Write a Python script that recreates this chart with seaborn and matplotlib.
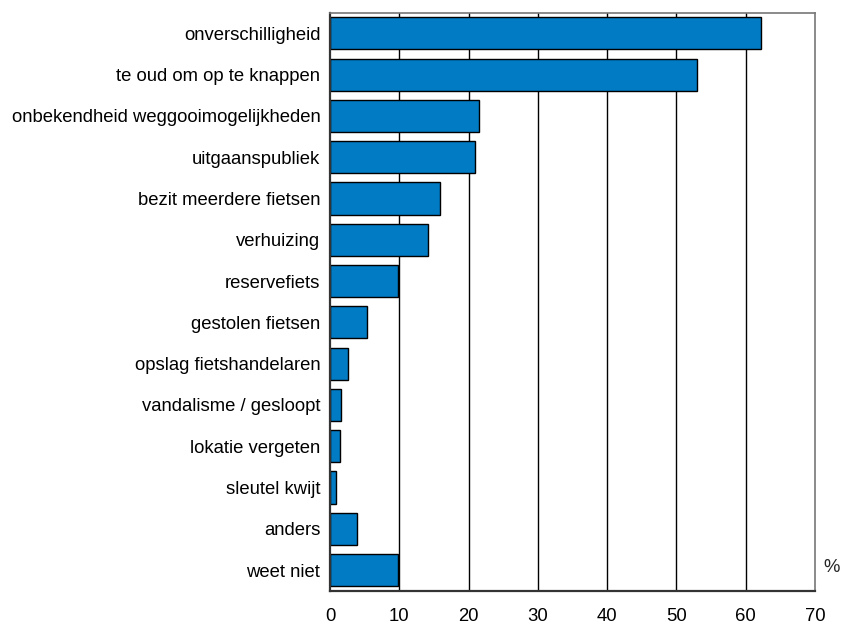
import matplotlib
matplotlib.use("Agg")
import matplotlib.pyplot as plt
import seaborn as sns
import pandas as pd

# reasons (top to bottom) and share of respondents in %
reasons = [
    "onverschilligheid",
    "te oud om op te knappen",
    "onbekendheid weggooimogelijkheden",
    "uitgaanspubliek",
    "bezit meerdere fietsen",
    "verhuizing",
    "reservefiets",
    "gestolen fietsen",
    "opslag fietshandelaren",
    "vandalisme / gesloopt",
    "lokatie vergeten",
    "sleutel kwijt",
    "anders",
    "weet niet",
]
percent = [62.2, 53.0, 21.5, 20.9, 15.9, 14.2, 9.8, 5.4, 2.65, 1.65, 1.45, 0.8, 3.9, 9.8]
x_ticks = [0, 10, 20, 30, 40, 50, 60, 70]

df = pd.DataFrame({"reden": reasons, "pct": percent})

sns.set_style("white")
plt.rcParams["font.family"] = ["Liberation Sans", "DejaVu Sans"]

fig = plt.figure(figsize=(8.44, 6.25), dpi=100)
ax = fig.add_axes([330 / 844, 1 - 590.7 / 625, (815 - 330) / 844, (590.7 - 12.7) / 625])

sns.barplot(data=df, x="pct", y="reden", orient="h", color="#007BC4",
            edgecolor="black", linewidth=1.0, width=0.78, saturation=1, ax=ax)

ax.set_xlim(0, 70)
ax.set_ylim(len(reasons) - 0.5, -0.5)
ax.set_xticks(x_ticks)
ax.set_xticklabels([str(t) for t in x_ticks])
ax.set_xlabel("")
ax.set_ylabel("")

for t in x_ticks[1:-1]:
    ax.axvline(t, color="black", linewidth=1.0, zorder=0)
ax.set_axisbelow(True)

for side in ["top", "right"]:
    ax.spines[side].set_color("#777777")
    ax.spines[side].set_linewidth(1.2)
for side in ["left", "bottom"]:
    ax.spines[side].set_color("#333333")
    ax.spines[side].set_linewidth(1.6)

ax.tick_params(axis="both", length=0, labelsize=13.3, colors="black")
ax.tick_params(axis="x", pad=12.5)
ax.tick_params(axis="y", pad=7)

ax.text(1.035, 0.04, "%", transform=ax.transAxes, fontsize=13.3, ha="center", va="center")

fig.savefig("out.png", dpi=100)
